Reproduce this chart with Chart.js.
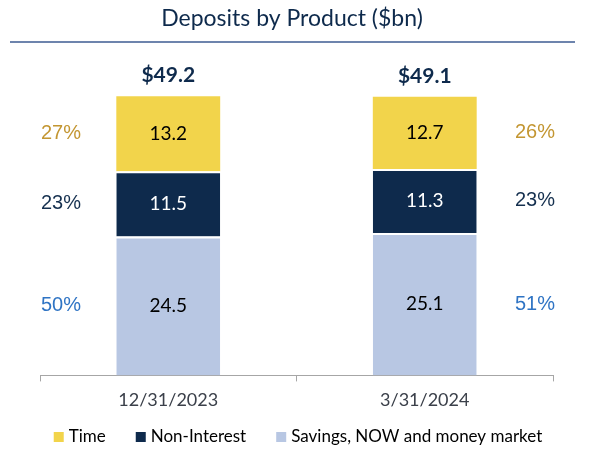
<!DOCTYPE html>
<html>
<head>
<meta charset="utf-8">
<script src="https://cdn.jsdelivr.net/npm/chart.js@4"></script>
<style>
  html, body { margin: 0; padding: 0; background: #fff; }
</style>
</head>
<body>
<canvas id="myChart" width="606" height="458"></canvas>
<script>
// Data ($bn)
const categories = ['12/31/2023', '3/31/2024'];
const savingsNow = [24.5, 25.1];
const nonInterest = [11.5, 11.3];
const timeDeposits = [13.2, 12.7];
const totals = [49.2, 49.1];
const savingsShare = ['50%', '51%'];
const nonInterestShare = ['23%', '23%'];
const timeShare = ['27%', '26%'];

const navy = '#0e2a4c';
const shareColors = ['#2f74c4', '#15304f', '#c39632'];   // savings, non-interest, time
const shareLabels = [savingsShare, nonInterestShare, timeShare];

// Draws the title, rule, totals, segment values, percentages and the legend
const annotations = {
    id: 'annotations',
    afterDatasetsDraw(chart) {
        const ctx = chart.ctx;
        const area = chart.chartArea;
        const sets = chart.data.datasets;
        ctx.save();

        // title and the rule under it
        ctx.fillStyle = navy;
        ctx.font = '23px Lato';
        ctx.textAlign = 'center';
        ctx.textBaseline = 'middle';
        ctx.fillText('Deposits by Product ($bn)', 292, 19);
        ctx.strokeStyle = '#6d84ad';
        ctx.lineWidth = 2;
        ctx.beginPath();
        ctx.moveTo(10, 42);
        ctx.lineTo(575, 42);
        ctx.stroke();

        sets.forEach((ds, d) => {
            const meta = chart.getDatasetMeta(d);
            meta.data.forEach((bar, i) => {
                const mid = (bar.y + bar.base) / 2;
                // value inside the segment
                ctx.font = '19px Lato';
                ctx.fillStyle = d === 1 ? '#ffffff' : '#000000';
                ctx.fillText(ds.data[i].toFixed(1), bar.x, mid);
                // share beside the bar
                ctx.font = '20px "Liberation Sans"';
                ctx.fillStyle = shareColors[d];
                const sx = i === 0 ? area.left + 21 : area.right - 18;
                ctx.fillText(shareLabels[d][i], sx, mid);
                // total on top
                if (d === sets.length - 1) {
                    ctx.font = 'bold 21px Lato';
                    ctx.fillStyle = navy;
                    ctx.fillText('$' + totals[i].toFixed(1), bar.x, bar.y - 21);
                }
            });
        });

        // legend, top series first
        ctx.font = '17px Lato';
        ctx.textAlign = 'left';
        const order = sets.map((ds, d) => d).reverse();
        const widths = order.map(d => 15 + ctx.measureText(sets[d].label).width);
        const full = widths.reduce((a, b) => a + b, 0) + 30 * (order.length - 1);
        let x = 298 - full / 2;
        const ly = 437;
        order.forEach((d, k) => {
            ctx.fillStyle = sets[d].backgroundColor;
            ctx.fillRect(x, ly - 5, 10, 10);
            ctx.fillStyle = '#000000';
            ctx.fillText(sets[d].label, x + 15, ly);
            x += widths[k] + 30;
        });
        ctx.restore();
    }
};

const ctx = document.getElementById('myChart').getContext('2d');

const myChart = new Chart(ctx, {
    type: 'bar',
    data: {
        labels: categories,
        datasets: [{
            label: 'Savings, NOW and money market',
            data: savingsNow,
            backgroundColor: '#b8c7e3',
            borderColor: '#ffffff',
            borderWidth: { top: 2, left: 0, right: 0, bottom: 0 },
            borderSkipped: false
        }, {
            label: 'Non-Interest',
            data: nonInterest,
            backgroundColor: '#0e2a4c',
            borderColor: '#ffffff',
            borderWidth: { top: 2, left: 0, right: 0, bottom: 0 },
            borderSkipped: false
        }, {
            label: 'Time',
            data: timeDeposits,
            backgroundColor: '#f2d44b',
            borderWidth: 0
        }]
    },
    options: {
        responsive: false,
        animation: false,
        layout: {
            padding: { left: 0, right: 0, top: 35, bottom: 39 }
        },
        datasets: {
            bar: { categoryPercentage: 1, barPercentage: 0.405 }
        },
        scales: {
            x: {
                stacked: true,
                grid: {
                    display: true,
                    offset: true,
                    drawOnChartArea: false,
                    drawTicks: true,
                    tickLength: 6,
                    color: '#a6a6a6'
                },
                border: { display: true, color: '#a6a6a6', width: 1 },
                ticks: {
                    color: '#3b404a',
                    font: { family: 'Lato', size: 18 },
                    padding: 8
                }
            },
            y: {
                stacked: true,
                min: 0,
                max: 60,
                ticks: { display: false },
                grid: { display: false },
                border: { display: false },
                afterFit(scale) { scale.width = 40; }
            },
            yRight: {
                position: 'right',
                min: 0,
                max: 60,
                ticks: { display: false },
                grid: { display: false },
                border: { display: false },
                afterFit(scale) { scale.width = 53; }
            }
        },
        plugins: {
            legend: { display: false },
            tooltip: { enabled: false }
        }
    },
    plugins: [annotations]
});
</script>
</body>
</html>
